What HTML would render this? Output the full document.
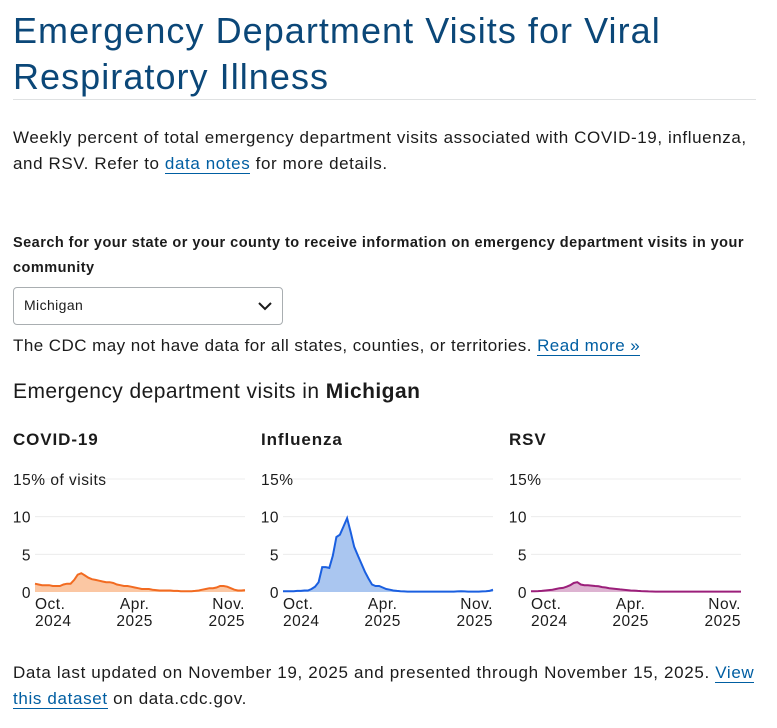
<!DOCTYPE html>
<html><head><meta charset="utf-8"><style>
body{margin:0;width:777px;height:728px;background:#fff;font-family:"Liberation Sans",sans-serif;color:#1b1b1b;position:relative;overflow:hidden}
.a{position:absolute;white-space:nowrap}
a{color:#005ea2;text-decoration:none;border-bottom:1px solid #005ea2}
</style></head><body>
<div class="a" style="left:13px;top:8px;font-size:36px;line-height:46px;color:#0b4778;letter-spacing:1.05px">Emergency Department Visits for Viral<br>Respiratory Illness</div>
<div class="a" style="left:13px;top:99px;width:743px;height:1px;background:#dfe1e2"></div>
<div class="a" style="left:13px;top:125px;font-size:17px;line-height:26px;letter-spacing:0.6px">Weekly percent of total emergency department visits associated with COVID-19, influenza,<br>and RSV. Refer to <a href="#">data notes</a> for more details.</div>
<div class="a" style="left:13px;top:231px;font-size:14.5px;line-height:25px;font-weight:bold;letter-spacing:0.47px">Search for your state or your county to receive information on emergency department visits in your<br>community</div>
<div class="a" style="left:13px;top:287px;width:270px;height:38px;border:1px solid #a9aeb1;border-radius:4px;box-sizing:border-box">
<span style="position:absolute;left:10px;top:9px;font-size:14px;letter-spacing:0.4px">Michigan</span>
<svg style="position:absolute;right:10px;top:14px" width="14" height="9" viewBox="0 0 14 9"><path d="M1 1 L7 7 L13 1" fill="none" stroke="#1b1b1b" stroke-width="2"/></svg></div>
<div class="a" style="left:13px;top:334px;font-size:17px;line-height:24px;letter-spacing:0.44px">The CDC may not have data for all states, counties, or territories. <a href="#">Read more »</a></div>
<div class="a" style="left:13px;top:378px;font-size:21px;line-height:28px;letter-spacing:0.45px">Emergency department visits in <b>Michigan</b></div>
<div class="a" style="left:13px;top:660px;font-size:17px;line-height:26px;letter-spacing:0.65px">Data last updated on November 19, 2025 and presented through November 15, 2025. <a href="#">View</a><br><a href="#">this dataset</a> on data.cdc.gov.</div>
<svg id="charts" class="a" style="left:0;top:420px" width="777" height="220"></svg>
<script>
const covid=[1.1,1.0,0.9,0.9,0.9,0.8,0.8,0.8,1.0,1.1,1.1,1.6,2.3,2.5,2.2,1.9,1.7,1.6,1.5,1.4,1.3,1.3,1.2,1.0,0.9,0.8,0.8,0.7,0.6,0.5,0.4,0.4,0.4,0.3,0.25,0.2,0.2,0.2,0.2,0.15,0.15,0.1,0.1,0.1,0.1,0.15,0.2,0.3,0.4,0.5,0.5,0.6,0.8,0.8,0.7,0.5,0.3,0.2,0.2,0.25];
const flu=[0.1,0.1,0.1,0.1,0.15,0.15,0.2,0.2,0.4,0.7,1.3,3.3,3.3,3.2,4.8,7.3,7.6,8.7,9.8,8.0,6.0,4.9,3.8,2.7,1.8,1.0,0.8,0.8,0.6,0.4,0.3,0.2,0.15,0.1,0.08,0.05,0.05,0.05,0.05,0.05,0.05,0.05,0.05,0.05,0.05,0.05,0.05,0.05,0.05,0.08,0.1,0.08,0.05,0.05,0.05,0.05,0.08,0.1,0.15,0.3];
const rsv=[0.1,0.1,0.12,0.15,0.2,0.25,0.3,0.4,0.5,0.55,0.7,0.9,1.2,1.3,1.0,0.9,0.9,0.85,0.8,0.75,0.65,0.6,0.5,0.45,0.4,0.35,0.3,0.25,0.2,0.18,0.15,0.12,0.1,0.08,0.06,0.05,0.05,0.05,0.05,0.05,0.05,0.05,0.05,0.05,0.05,0.05,0.05,0.05,0.05,0.05,0.05,0.05,0.05,0.05,0.05,0.05,0.05,0.05,0.05,0.05];
const titles=["COVID-19","Influenza","RSV"];
const yTicks=[0,5,10,15];
const xTickLabels=[["Oct.","2024"],["Apr.","2025"],["Nov.","2025"]];
const xTickIdx=[0,28,59];
const series=[covid,flu,rsv];
const lineColors=["#f26b21","#1a5fe0","#9b1f7a"];
const fillColors=["#fbc7a3","#aac6f0","#ddb3d1"];
const lefts=[13,261,509];
const NS="http://www.w3.org/2000/svg";
const svg=document.getElementById('charts');
function mk(t,a){const e=document.createElementNS(NS,t);for(const k in a)e.setAttribute(k,a[k]);return e;}
series.forEach((d,c)=>{
  const L=lefts[c],x0=L+22,x1=L+232,yB=172,yT=59;
  const X=i=>x0+(x1-x0)*i/(d.length-1);
  const Y=v=>yB-(yB-yT)*v/15;
  const g=mk('g',{});
  
  
  svg.appendChild(g);
  const t=mk('text',{x:L,y:25,'font-size':17,'font-weight':'bold','fill':'#1b1b1b','font-family':'Liberation Sans, sans-serif','letter-spacing':0.9});
  t.textContent=titles[c];
  
  
  g.appendChild(t);
  yTicks.forEach(v=>{
    if(v>0){const gl=mk('line',{x1:x0,x2:x1,y1:Y(v),y2:Y(v),stroke:'#ececec','stroke-width':1});
    
    
    g.appendChild(gl);}
    const lb=mk('text',{x:v===15?L:x0-4,y:Y(v)+6,'text-anchor':v===15?'start':'end','font-size':15.5,fill:'#1b1b1b','font-family':'Liberation Sans, sans-serif','letter-spacing':0.5});
    lb.textContent=v===15?(c===0?'15% of visits':'15%'):String(v);
    
    
    g.appendChild(lb);
  });
  let p='M'+X(0)+','+yB;
  d.forEach((v,i)=>p+=' L'+X(i).toFixed(1)+','+Y(v).toFixed(1));
  p+=' L'+X(d.length-1)+','+yB+' Z';
  const area=mk('path',{d:p,fill:fillColors[c]});
  
  
  g.appendChild(area);
  const line=mk('polyline',{points:d.map((v,i)=>X(i).toFixed(1)+','+Y(v).toFixed(1)).join(' '),fill:'none',stroke:lineColors[c],'stroke-width':2});
  
  
  g.appendChild(line);
  xTickIdx.forEach((ix,k)=>{
    const anchor=k===0?'start':(k===2?'end':'middle');
    const xx=k===0?x0:(k===2?x1:X(ix));
    xTickLabels[k].forEach((s,j)=>{
      const tx=mk('text',{x:xx,y:yB+17+j*17,'text-anchor':anchor,'font-size':15.5,fill:'#1b1b1b','font-family':'Liberation Sans, sans-serif','letter-spacing':0.5});
      tx.textContent=s;
      
      
      g.appendChild(tx);
    });
  });
});
</script>
</body></html>
